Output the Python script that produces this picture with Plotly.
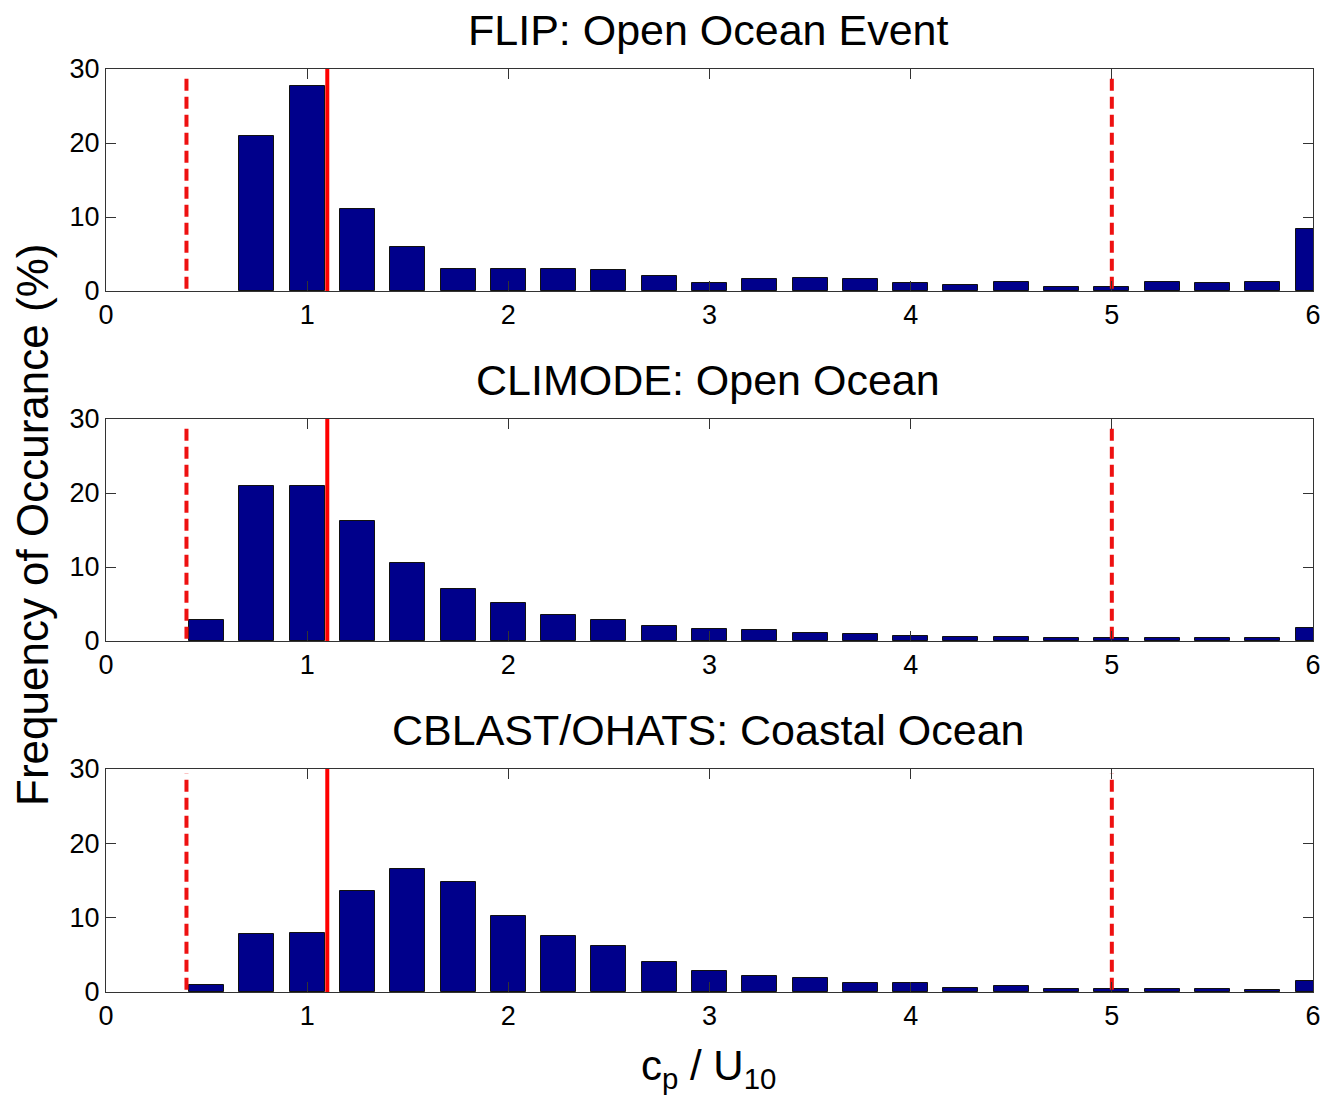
import plotly.graph_objects as go
from plotly.subplots import make_subplots

# Bin centres of c_p / U10 (bin width 0.25)
bin_centers = [0.5, 0.75, 1.0, 1.25, 1.5, 1.75, 2.0, 2.25, 2.5, 2.75, 3.0, 3.25,
               3.5, 3.75, 4.0, 4.25, 4.5, 4.75, 5.0, 5.25, 5.5, 5.75, 6.0]

# Frequency of occurrence (%) per bin for each experiment
flip_freq = [0.0, 21.0, 27.7, 11.1, 6.0, 3.0, 3.0, 3.0, 2.8, 2.0, 1.1, 1.6,
             1.8, 1.6, 1.1, 0.85, 1.25, 0.55, 0.55, 1.25, 1.1, 1.25, 8.4]
climode_freq = [2.8, 21.0, 20.9, 16.2, 10.6, 7.05, 5.15, 3.55, 2.8, 2.0, 1.6, 1.45,
                1.1, 0.95, 0.72, 0.54, 0.54, 0.36, 0.36, 0.36, 0.36, 0.36, 1.8]
cblast_freq = [0.95, 7.8, 8.0, 13.55, 16.55, 14.75, 10.25, 7.6, 6.2, 4.1, 2.85, 2.2,
               1.85, 1.15, 1.15, 0.6, 0.8, 0.45, 0.45, 0.45, 0.45, 0.27, 1.5]

panel_titles = ["FLIP: Open Ocean Event", "CLIMODE: Open Ocean",
                "CBLAST/OHATS: Coastal Ocean"]
series = [flip_freq, climode_freq, cblast_freq]

# Reference lines on c_p / U10
wind_sea_limit = 1.1        # solid
range_limits = [0.4, 5.0]   # dashed

x_ticks = [0, 1, 2, 3, 4, 5, 6]
y_ticks = [0, 10, 20, 30]

FONT = "Liberation Sans, Arial, sans-serif"
H = 1099.0
W_PLOT = 1207.0
L = 106

fig = make_subplots(rows=3, cols=1)

for i, vals in enumerate(series, start=1):
    # empty bins get no outline so nothing is drawn for them
    outline_w = [1 if v > 0 else 0 for v in vals]
    fig.add_trace(go.Bar(x=bin_centers, y=vals, width=0.174,
                         marker=dict(color="#00008B",
                                     line=dict(color="#111111", width=outline_w)),
                         showlegend=False), row=i, col=1)
    for xv in range_limits:
        fig.add_trace(go.Scatter(x=[xv, xv], y=[0.3, 29.4], mode="lines",
                                 line=dict(color="#EE1111", width=4,
                                           dash="12px,6px"),
                                 showlegend=False), row=i, col=1)
    fig.add_trace(go.Scatter(x=[wind_sea_limit, wind_sea_limit], y=[0, 30],
                             mode="lines",
                             line=dict(color="#FF0000", width=4),
                             showlegend=False), row=i, col=1)

# Panel placement (pixel rows -> paper fractions)
panel_px = [(69, 291), (419, 641), (769, 992)]
title_px = [30, 380, 730]

axis_common = dict(showline=True, linecolor="#333333", linewidth=1,
                   mirror="ticks", ticks="inside", ticklen=10,
                   tickcolor="#333333", showgrid=False, zeroline=False,
                   tickfont=dict(family=FONT, size=27, color="black"),
                   automargin=False, fixedrange=True)

for i, (top, bot) in enumerate(panel_px, start=1):
    fig.update_xaxes(range=[0, 6], tickvals=x_ticks,
                     ticktext=[str(t) for t in x_ticks],
                     domain=[0, 1], row=i, col=1, **axis_common)
    fig.update_yaxes(range=[0, 30], tickvals=y_ticks,
                     ticktext=[str(t) for t in y_ticks],
                     domain=[1 - bot / H, 1 - top / H], row=i, col=1,
                     **axis_common)

annotations = []
for t, ypx in zip(panel_titles, title_px):
    annotations.append(dict(text=t, x=(708 - L) / W_PLOT, y=1 - ypx / H,
                            xref="paper", yref="paper", showarrow=False,
                            xanchor="center", yanchor="middle",
                            font=dict(family=FONT, size=43, color="black")))

annotations.append(dict(text="Frequency of Occurance (%)", textangle=-90,
                        x=(32 - L) / W_PLOT, y=1 - 525 / H,
                        xref="paper", yref="paper", showarrow=False,
                        xanchor="center", yanchor="middle",
                        font=dict(family=FONT, size=44, color="black")))

annotations.append(dict(text="c<sub>p</sub> / U<sub>10</sub>",
                        x=(708 - L) / W_PLOT, y=1 - 1068 / H,
                        xref="paper", yref="paper", showarrow=False,
                        xanchor="center", yanchor="middle",
                        font=dict(family=FONT, size=42, color="black")))

fig.update_layout(width=1324, height=1099,
                  margin=dict(l=L, r=1324 - L - int(W_PLOT), t=0, b=0),
                  paper_bgcolor="white", plot_bgcolor="white",
                  bargap=0, annotations=annotations, showlegend=False)

fig.write_html("out.html")
